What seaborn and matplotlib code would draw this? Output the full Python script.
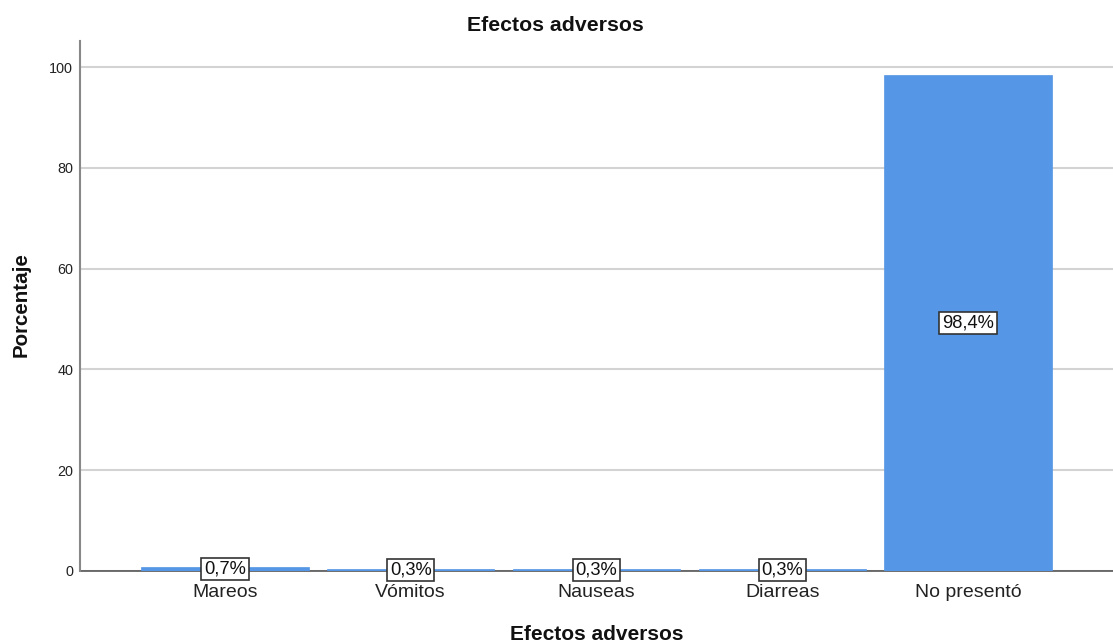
import matplotlib
matplotlib.use("Agg")
import matplotlib.pyplot as plt
import seaborn as sns
import pandas as pd

categories = ["Mareos", "Vómitos", "Nauseas", "Diarreas", "No presentó"]
values = [0.7, 0.3, 0.3, 0.3, 98.4]
labels = ["0,7%", "0,3%", "0,3%", "0,3%", "98,4%"]

sns.set_theme(style="white")
plt.rcParams['font.family'] = ['Liberation Sans', 'DejaVu Sans']

df = pd.DataFrame({"cat": categories, "val": values})

W, H = 1113, 644
fig = plt.figure(figsize=(W/100, H/100), dpi=100)
ax = fig.add_axes([80/W, 1-571/H, 1-80/W, (571-41)/H])

sns.barplot(data=df, x="cat", y="val", color="#5596E6", saturation=1,
            width=0.9, ax=ax, zorder=3, edgecolor="#5596E6", linewidth=0.5)

ax.set_xlim(-0.78, 4.78)
ax.set_ylim(0, 105.2)
ax.set_yticks([0, 20, 40, 60, 80, 100])
ax.yaxis.grid(True, color="#d3d3d3", linewidth=1.5, zorder=0)
ax.xaxis.grid(False)
ax.set_axisbelow(True)

for s in ["top", "right"]:
    ax.spines[s].set_visible(False)
ax.spines["left"].set_color("#888888")
ax.spines["left"].set_linewidth(1.5)
ax.spines["bottom"].set_color("#555555")
ax.spines["bottom"].set_linewidth(1.2)
ax.spines["bottom"].set_zorder(2)

ax.tick_params(axis="y", length=0, pad=5, labelsize=10.4, labelcolor="#222222")
ax.tick_params(axis="x", length=0, pad=9.5, labelsize=14, labelcolor="#222222")

for i, (v, lab) in enumerate(zip(values, labels)):
    ax.text(i, v/2, lab, ha="center", va="center", fontsize=13.2, color="#111111",
            zorder=5,
            bbox=dict(boxstyle="square,pad=0.15", facecolor="white",
                      edgecolor="#333333", linewidth=1.2))

ax.set_xlabel("")
ax.set_ylabel("")
fig.text(597/W, 1-640/H, "Efectos adversos", ha="center", va="baseline",
         fontsize=15, fontweight="bold", color="#111111")
fig.text(21/W, 1-305/H, "Porcentaje", ha="center", va="center", rotation=90,
         fontsize=14.8, fontweight="bold", color="#111111")
fig.text(555/W, 1-31/H, "Efectos adversos", ha="center", va="baseline",
         fontsize=15.3, fontweight="bold", color="#111111")

fig.savefig("out.png", dpi=100)
